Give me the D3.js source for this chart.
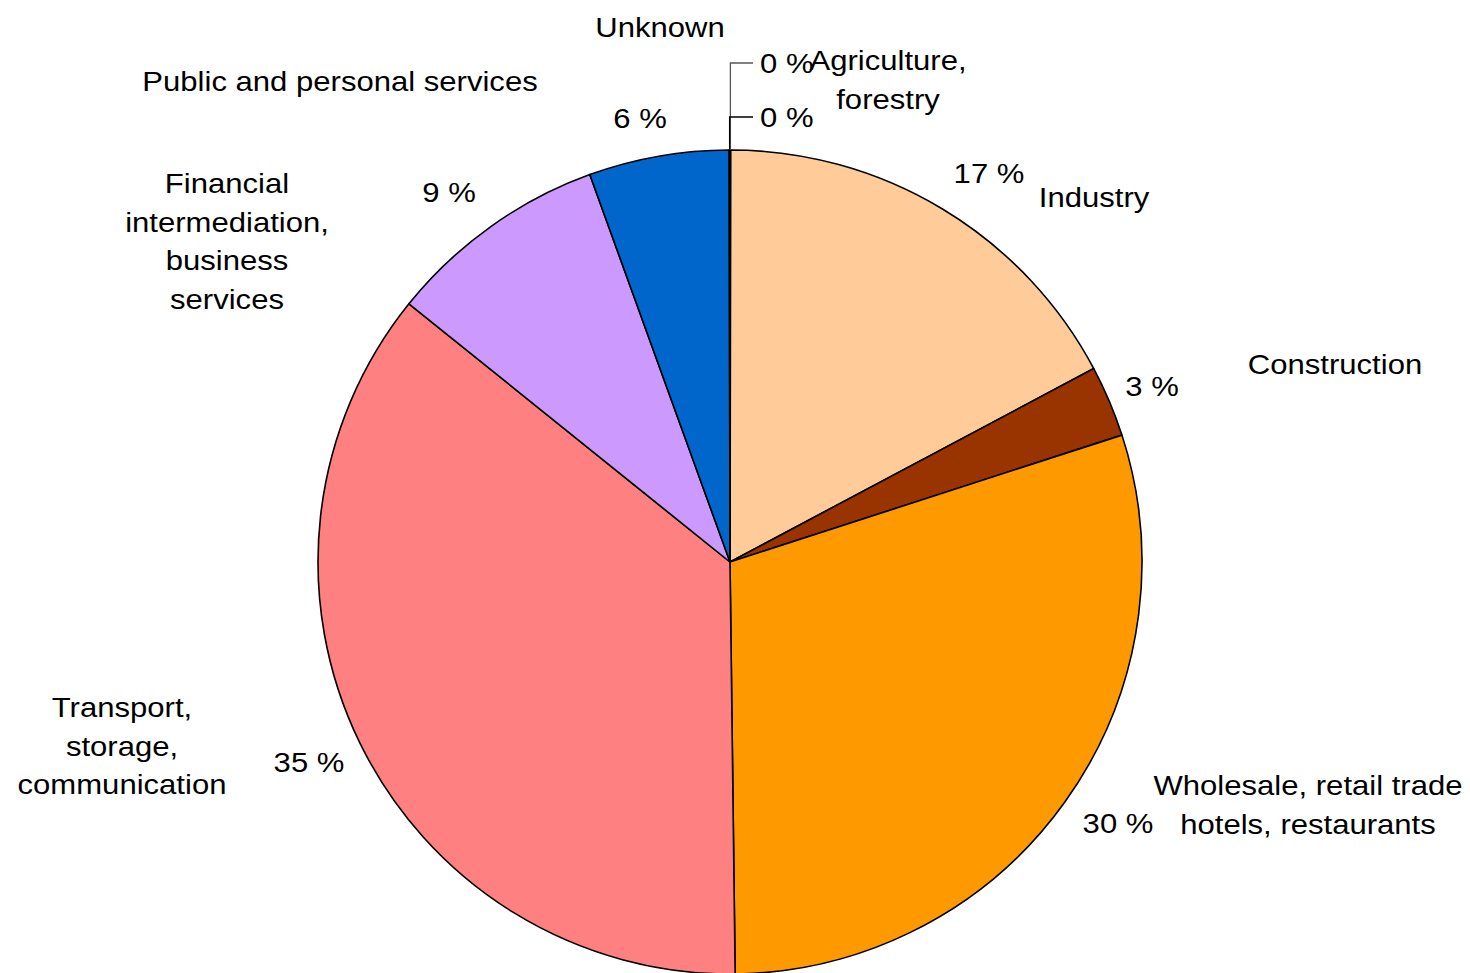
<!doctype html>
<head>
<meta charset="utf-8">
<title>Pie</title>
<script src="https://d3js.org/d3.v7.min.js"></script>
<style>
  body { margin: 0; background: #fff; }
  text { font-family: "Liberation Sans", Arial, sans-serif; font-size: 27.5px; fill: #000; }
</style>
</head>
<body>
<svg id="chart" width="1470" height="973"></svg>
<script>
// data
const categories = ["Agriculture, forestry", "Industry", "Construction", "Wholesale, retail trade hotels, restaurants",
  "Transport, storage, communication", "Financial intermediation, business services", "Public and personal services", "Unknown"];
const shares = [0.03, 17.2, 2.8, 29.8, 36.0, 8.7, 5.5, 0.03];
const pctLabels = ["0 %", "17 %", "3 %", "30 %", "35 %", "9 %", "6 %", "0 %"];
const nameLines = [["Agriculture,", "forestry"], ["Industry"], ["Construction"], ["Wholesale, retail trade", "hotels, restaurants"],
  ["Transport,", "storage,", "communication"], ["Financial", "intermediation,", "business", "services"],
  ["Public and personal services"], ["Unknown"]];
const colors = ["#339966", "#FFCC99", "#993300", "#FF9900", "#FF8080", "#CC99FF", "#0066CC", "#C0C0C0"];

// layout (label placement, as in the original)
const cx = 730, cy = 562, r = 412, sx = 1.13, lh = 38.5;
const nameAt = [[888, 70, "middle"], [1094, 207, "middle"], [1335, 374, "middle"], [1308, 795, "middle"],
  [122, 717, "middle"], [227, 193, "middle"], [340, 91, "middle"], [660, 37, "middle"]];
const pctAt = [[760, 73, "start"], [989, 183, "middle"], [1152, 396, "middle"], [1118, 833, "middle"],
  [309, 772, "middle"], [449, 202, "middle"], [640, 128, "middle"], [760, 127, "start"]];
const leaderY = {0: 63, 7: 117};

const svg = d3.select("#chart");
const g = svg.append("g").attr("transform", `translate(${cx},${cy})`);

const pie = d3.pie().sort(null).value(d => d)(shares);
const arc = d3.arc().innerRadius(0).outerRadius(r);

g.selectAll("path.slice").data(pie).join("path")
  .attr("class", "slice")
  .attr("d", arc)
  .attr("fill", (d, i) => colors[i])
  .attr("stroke", "#000")
  .attr("stroke-width", 1.6)
  .attr("stroke-linejoin", "round");

// leader lines for the tiny slices
Object.keys(leaderY).forEach(k => {
  const d = pie[k];
  const [px, py] = d3.pointRadial((d.startAngle + d.endAngle) / 2, r);
  svg.append("path")
    .attr("d", `M${cx + px},${cy + py}V${leaderY[k]}H${pctAt[k][0] - 7}`)
    .attr("fill", "none")
    .attr("stroke", k == 0 ? "#555" : "#000")
    .attr("stroke-width", 1.3);
});

function addText(x, y, anchor, str) {
  svg.append("text")
    .attr("transform", `translate(${x},${y}) scale(${sx},1)`)
    .attr("text-anchor", anchor)
    .text(str);
}

categories.forEach((c, i) => {
  const [x, y, a] = nameAt[i];
  nameLines[i].forEach((ln, j) => addText(x, y + j * lh, a, ln));
  addText(pctAt[i][0], pctAt[i][1], pctAt[i][2], pctLabels[i]);
});
</script>
</body>
